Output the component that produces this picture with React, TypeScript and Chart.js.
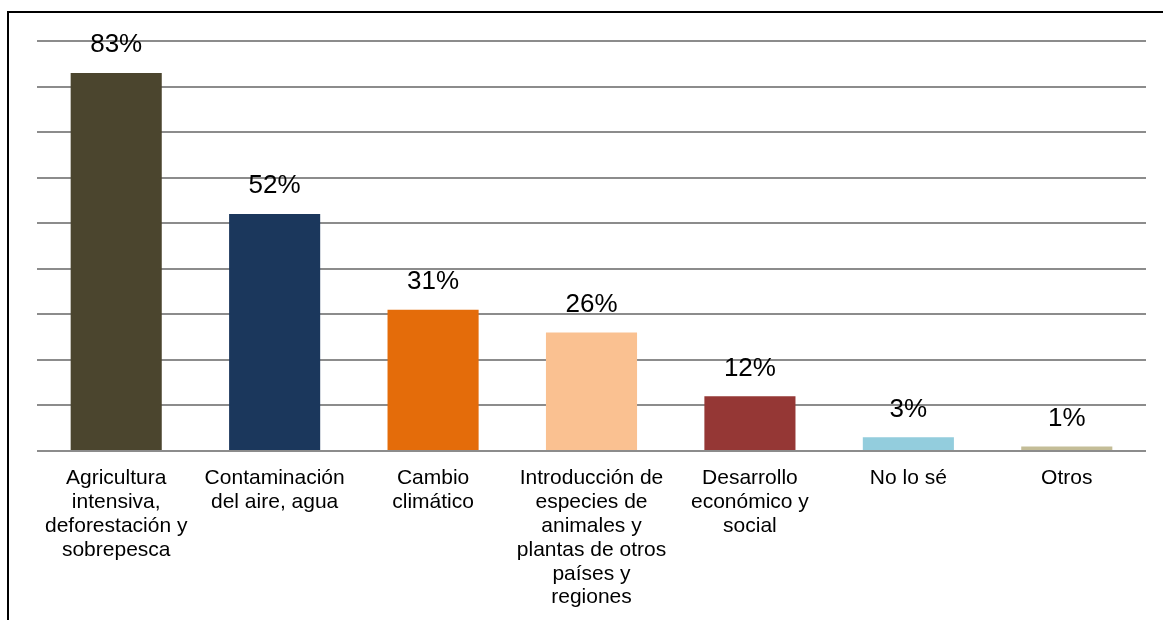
import React, { useEffect, useRef } from "react";
import { Chart, registerables } from "chart.js";

Chart.register(...registerables);

const categories: string[][] = [
  ["Agricultura", "intensiva,", "deforestación y", "sobrepesca"],
  ["Contaminación", "del aire, agua"],
  ["Cambio", "climático"],
  ["Introducción de", "especies de", "animales y", "plantas de otros", "países y", "regiones"],
  ["Desarrollo", "económico y", "social"],
  ["No lo sé"],
  ["Otros"],
];

const values: number[] = [83, 52, 31, 26, 12, 3, 1];

const barColors: string[] = [
  "#4B452E",
  "#1B375C",
  "#E46C0A",
  "#FAC191",
  "#953735",
  "#93CDDD",
  "#C4BD97",
];

const FONT = "Arial, 'Liberation Sans', sans-serif";

const valueLabelPlugin = {
  id: "valueLabels",
  afterDatasetsDraw(chart: any) {
    const { ctx } = chart;
    const meta = chart.getDatasetMeta(0);
    ctx.save();
    ctx.font = `26px ${FONT}`;
    ctx.fillStyle = "#000";
    ctx.textAlign = "center";
    ctx.textBaseline = "middle";
    meta.data.forEach((bar: any, i: number) => {
      ctx.fillText(`${values[i]}%`, bar.x, bar.y - 28);
    });
    ctx.restore();
  },
};

export default function App() {
  const canvasRef = useRef<HTMLCanvasElement | null>(null);

  useEffect(() => {
    document.body.style.margin = "0";
    const canvas = canvasRef.current;
    if (!canvas) return;
    const chart = new Chart(canvas, {
      type: "bar",
      data: {
        labels: categories,
        datasets: [
          {
            data: values,
            backgroundColor: barColors,
            borderWidth: 0,
            barPercentage: 0.575,
            categoryPercentage: 1,
          },
        ],
      },
      options: {
        animation: false,
        responsive: false,
        maintainAspectRatio: false,
        layout: { padding: { left: 37, right: 17, top: 41, bottom: 0 } },
        plugins: {
          legend: { display: false },
          tooltip: { enabled: false },
          title: { display: false },
        },
        scales: {
          x: {
            grid: { display: false, drawTicks: false },
            border: { display: false },
            afterFit: (scale: any) => {
              scale.height = 169;
            },
            ticks: {
              color: "#000",
              font: { family: FONT, size: 21, lineHeight: 1.14 },
              padding: 15,
              maxRotation: 0,
              minRotation: 0,
              autoSkip: false,
            },
          },
          y: {
            min: 0,
            max: 90,
            grid: {
              color: "#8c8c8c",
              lineWidth: 2,
              drawTicks: false,
            },
            border: { display: false },
            ticks: { display: false, stepSize: 10 },
          },
        },
      },
      plugins: [valueLabelPlugin],
    });
    return () => chart.destroy();
  }, []);

  return (
    <div style={{ position: "absolute", left: 0, top: 0, width: 1163, height: 620, background: "#fff", overflow: "hidden" }}>
      <div
        style={{
          position: "absolute",
          left: 7,
          top: 11,
          width: 1200,
          height: 700,
          borderLeft: "2px solid #000",
          borderTop: "2px solid #000",
        }}
      />
      <canvas
        ref={canvasRef}
        width={1163}
        height={620}
        style={{ position: "absolute", left: 0, top: 0, width: 1163, height: 620 }}
      />
    </div>
  );
}
